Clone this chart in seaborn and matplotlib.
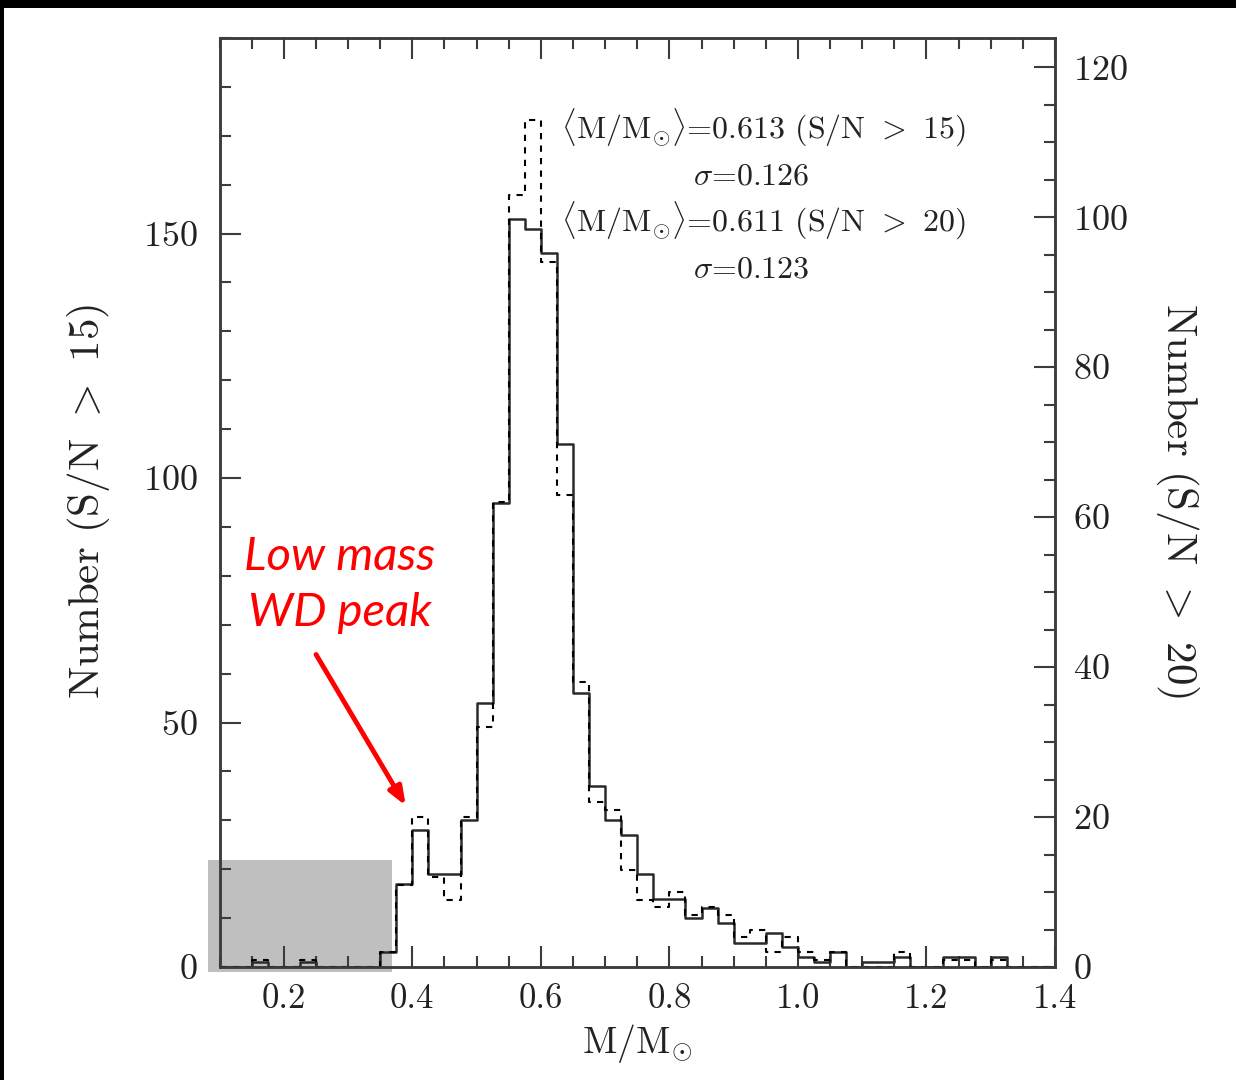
import numpy as np
import pandas as pd
import matplotlib
matplotlib.use("Agg")
import matplotlib.pyplot as plt
import seaborn as sns
from matplotlib.ticker import MultipleLocator, FormatStrFormatter
from matplotlib.patches import Rectangle

# Mass histogram of DA white dwarfs, 0.025 Msun bins from 0.1 to 1.4
mass_min = 0.1
mass_max = 1.4
bin_width = 0.025

# counts per bin, S/N > 15 sample (left axis)
counts_sn15 = [0, 0, 1, 0, 0, 1, 0, 0, 0, 0,
               3, 17, 28, 19, 19, 30, 54, 95, 153, 151,
               146, 107, 56, 37, 30, 27, 19, 14, 14, 10,
               12, 9, 5, 5, 7, 4, 2, 1, 3, 0,
               1, 1, 2, 0, 0, 2, 2, 0, 2, 0,
               0, 0]
# counts per bin, S/N > 20 sample (right axis)
counts_sn20 = [0, 0, 1, 0, 0, 1, 0, 0, 0, 0,
               2, 11, 20, 12, 9, 20, 32, 62, 103, 113,
               94, 63, 38, 22, 21, 13, 9, 8, 10, 7,
               8, 7, 4, 5, 2, 4, 2, 1, 2, 0,
               0, 0, 2, 0, 0, 1, 1, 0, 1, 0,
               0, 0]

stats_lines = [r"$\langle\mathrm{M/M}_{\odot}\rangle$=0.613 (S/N $>$ 15)",
               r"$\sigma$=0.126",
               r"$\langle\mathrm{M/M}_{\odot}\rangle$=0.611 (S/N $>$ 20)",
               r"$\sigma$=0.123"]

n_bins = len(counts_sn15)
centers = mass_min + bin_width * (np.arange(n_bins) + 0.5)
df = pd.DataFrame({"mass": centers, "sn15": counts_sn15, "sn20": counts_sn20})

sns.set_theme(style="white")
plt.rcParams["font.family"] = ["cmr10", "DejaVu Serif"]
plt.rcParams["mathtext.fontset"] = "cm"
plt.rcParams["axes.formatter.use_mathtext"] = True
plt.rcParams["axes.unicode_minus"] = False

W, H = 1236, 1080
fig = plt.figure(figsize=(W / 100, H / 100), dpi=100)
fig.patch.set_facecolor("white")

# axes frame in pixels
x0, x1, ytop, ybot = 219.5, 1055, 38, 967
ax = fig.add_axes([x0 / W, (H - ybot) / H, (x1 - x0) / W, (ybot - ytop) / H])

frame_col = "#3c3c3c"
sns.histplot(data=df, x="mass", weights="sn15", binwidth=bin_width,
             binrange=(mass_min, mass_max), element="step",
             fill=False, color="#2a2a2a", linewidth=1.8, ax=ax)
ax.set_xlim(mass_min, mass_max)
ax.set_ylim(0, 190)

ax2 = ax.twinx()
sns.histplot(data=df, x="mass", weights="sn20", binwidth=bin_width,
             binrange=(mass_min, mass_max), element="step",
             fill=False, color="black", linewidth=1.5, linestyle=(0, (3, 3)), ax=ax2)
ax2.set_xlim(mass_min, mass_max)
ax2.set_ylim(0, 123.9)

fs = 25
for a in (ax, ax2):
    for s in a.spines.values():
        s.set_color(frame_col)
        s.set_linewidth(1.8)
    a.set_facecolor("none")

ax.xaxis.set_major_locator(MultipleLocator(0.2))
ax.xaxis.set_minor_locator(MultipleLocator(0.05))
ax.xaxis.set_major_formatter(FormatStrFormatter("%.1f"))
ax.yaxis.set_major_locator(MultipleLocator(50))
ax.yaxis.set_minor_locator(MultipleLocator(10))
ax2.yaxis.set_major_locator(MultipleLocator(20))
ax2.yaxis.set_minor_locator(MultipleLocator(5))

ax.tick_params(axis="x", which="both", direction="in", top=True, bottom=True,
               color=frame_col, labelsize=fs, pad=12, labelcolor="#222")
ax.tick_params(axis="y", which="both", direction="in", left=True, right=False,
               color=frame_col, labelsize=26, pad=16, labelcolor="#222")
ax2.tick_params(axis="y", which="both", direction="in", right=True, left=False,
                color=frame_col, labelsize=26, pad=13, labelcolor="#222")
for a in (ax, ax2):
    a.tick_params(which="major", length=15, width=1.5)
    a.tick_params(which="minor", length=8, width=1.5)
ax2.tick_params(axis="x", which="both", top=False, bottom=False, labelbottom=False)

ax.set_xlabel(r"$\mathrm{M/M}_{\odot}$", fontsize=27, color="#222", va="center")
ax.xaxis.set_label_coords(0.4997, -0.082)
ax.set_ylabel(r"Number (S/N $>$ 15)", fontsize=31, color="#222", va="center")
ax.yaxis.set_label_coords(-0.157, 0.5016)
ax2.set_ylabel(r"Number (S/N $>$ 20)", fontsize=31, color="#222",
               rotation=270, va="center")
ax2.yaxis.set_label_coords(1.147, 0.5016)

# mean mass annotations
stats_x = [0.946, 0.927, 0.946, 0.927]
stats_y = [171.6, 161.6, 152.6, 142.5]
for tx, ty, s in zip(stats_x, stats_y, stats_lines):
    ax.text(tx, ty, s, fontsize=23, ha="center", va="center", color="#222")

# highlighted low-mass region
ax.add_patch(Rectangle((-0.0138, -0.0054), 0.2203, 0.1206, transform=ax.transAxes,
                       facecolor="#bfbfbf", edgecolor="none", clip_on=False, zorder=0.5))

ax.text(0.287, 78.1, "Low mass\nWD peak", color="red", fontsize=34,
        fontstyle="italic", family="Lato", ha="center", va="center", linespacing=1.4)
ax.annotate("", xy=(0.392, 32.5), xytext=(0.248, 64.4),
            arrowprops=dict(arrowstyle="-|>,head_length=0.9,head_width=0.35",
                            color="red", lw=3.5))

# dark strips along the top and left edges of the image
fig.add_artist(Rectangle((0, 1 - 8 / H), 1, 8 / H, transform=fig.transFigure,
                         facecolor="black", edgecolor="none"))
fig.add_artist(Rectangle((0, 0), 4 / W, 1, transform=fig.transFigure,
                         facecolor="black", edgecolor="none"))

fig.savefig("out.png", dpi=100, facecolor="white")
